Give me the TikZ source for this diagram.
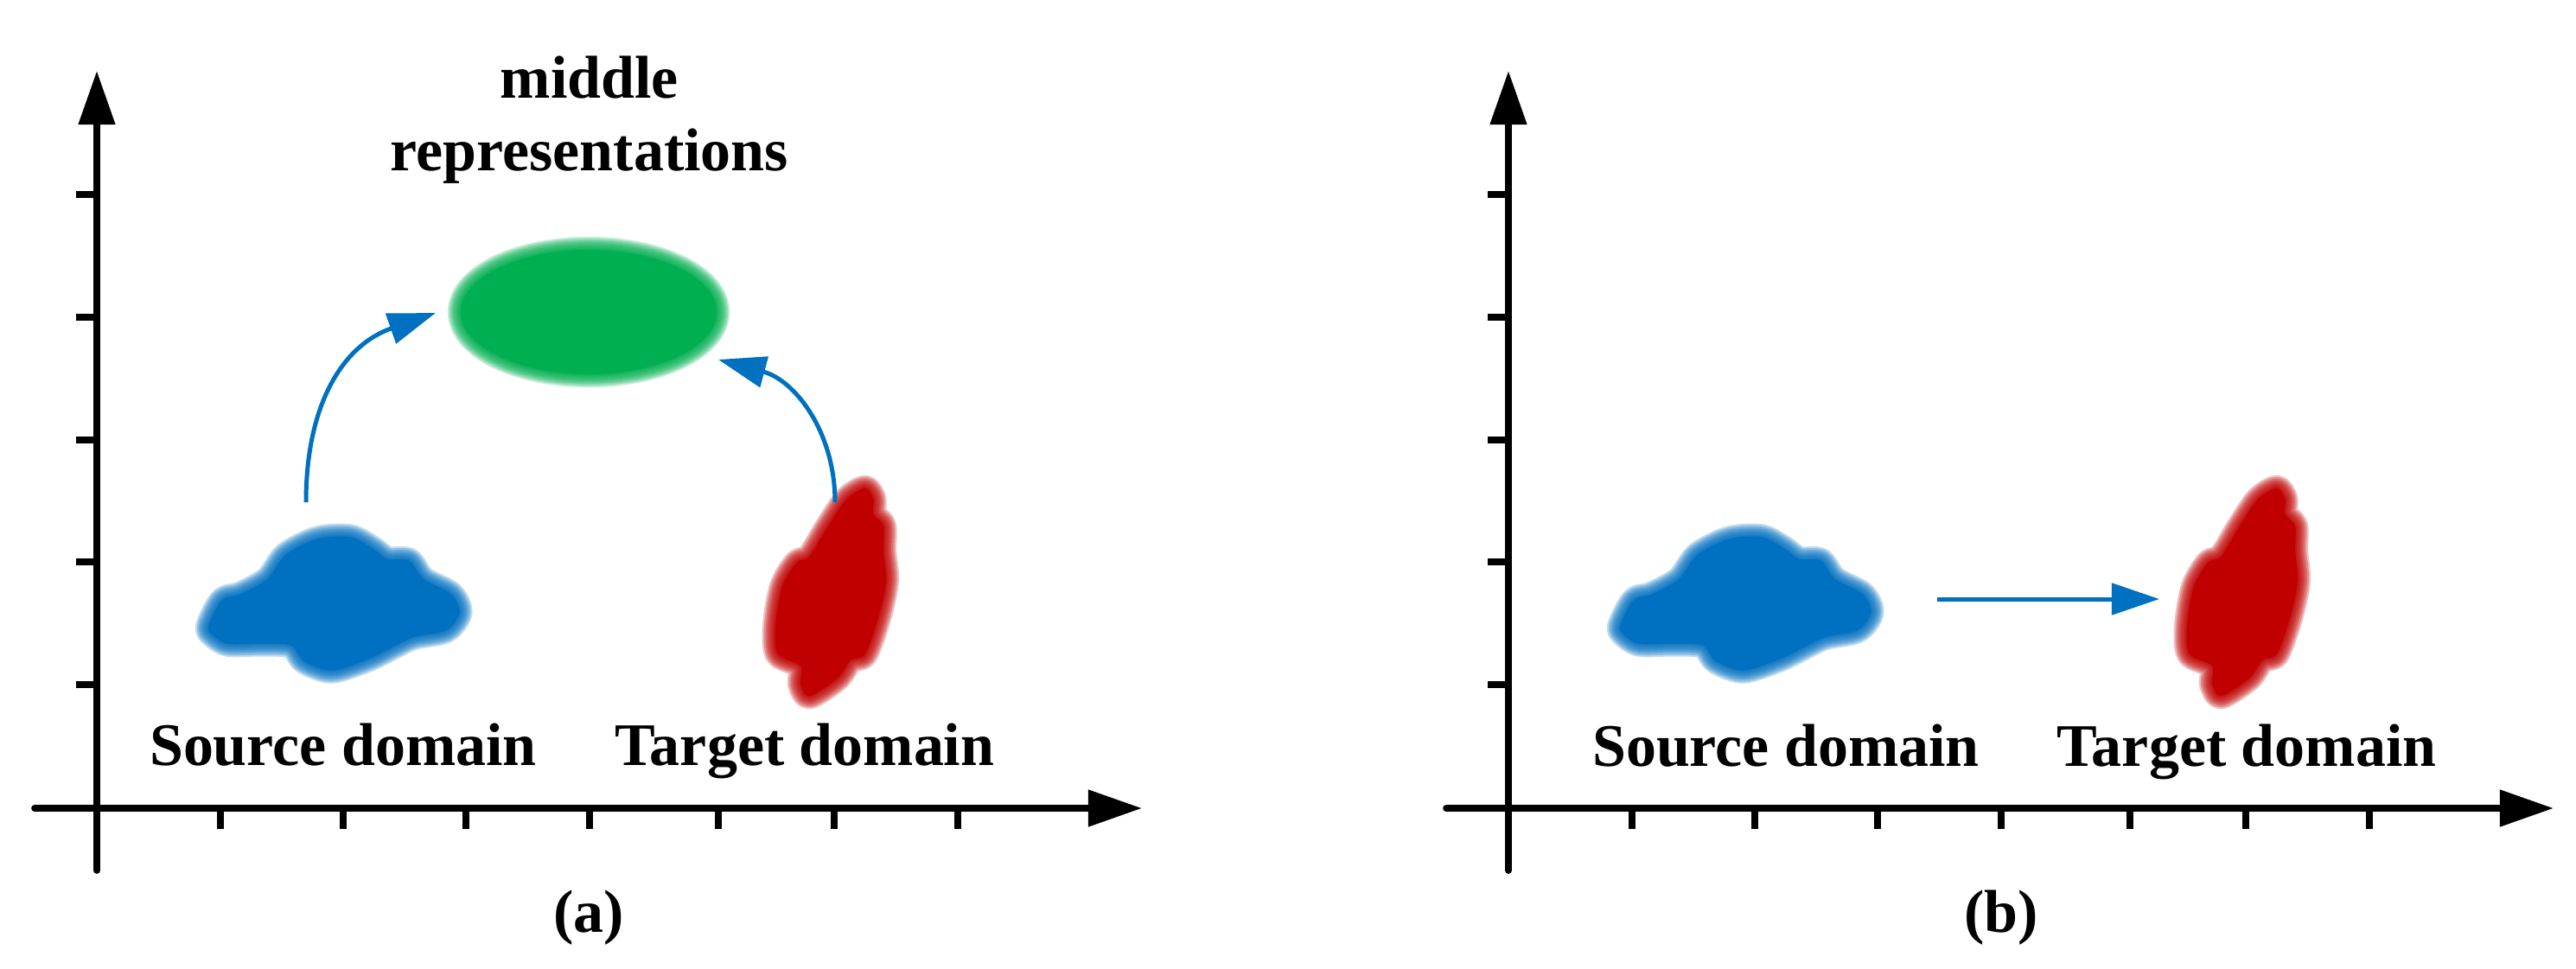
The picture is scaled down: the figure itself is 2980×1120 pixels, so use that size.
\documentclass[tikz,border=0pt]{standalone}
\usepackage{fontspec}
\setmainfont{Liberation Serif}
\usetikzlibrary{arrows.meta,shapes.geometric}
\definecolor{cblue}{HTML}{0070C0}
\definecolor{cred}{HTML}{C00000}
\definecolor{cgreen}{HTML}{00B050}
\newcommand{\cloudshape}{plot[smooth cycle] coordinates {(-149,24) (-133,-6) (-111,-13) (-79,-31) (-57,-60) (-19,-79) (20,-81) (47,-67) (64,-55) (90,-53) (107,-31) (140,-13) (150,9) (134,30) (96,38) (74,48) (42,64) (-2,78) (-35,67) (-51,48) (-89,46) (-127,46) (-146,34)}}
\newcommand{\redshape}{plot[smooth cycle] coordinates {(42,-124) (52,-111) (52,-93) (64,-79) (64,-49) (67,-13) (58,30) (42,74) (25,81) (9,103) (-24,124) (-35,110) (-35,88) (-62,74) (-65,41) (-57,-6) (-40,-35) (-24,-43) (-2,-79) (20,-111)}}
\newcommand{\softfill}[2]{%
  \foreach \w in {0.30,0.26,0.22,0.18,0.14,0.10,0.06,0.03}{\draw[#1,opacity=0.25,line width=\w cm,line join=round] #2;}%
  \fill[#1] #2;}
\begin{document}
\begin{tikzpicture}[x=0.01cm,y=-0.01cm,
  font=\fontsize{19.9pt}{23.8pt}\selectfont\bfseries,
  axisline/.style={line width=0.077cm,line cap=round,-{Triangle[length=0.62cm,width=0.41cm]}},
  tickmark/.style={line width=0.077cm},
  conn/.style={cblue,line width=0.05cm,-{Triangle[length=0.55cm,width=0.36cm]}},
  lbl/.style={anchor=base,inner sep=0pt}]
\useasboundingbox[fill=white] (0,0) rectangle (2980,1120);

% ---------- panel (a) ----------
\coordinate (yAbot) at (112,1007);
\coordinate (yAtop) at (112,82);
\coordinate (xAleft) at (40,935);
\coordinate (xAright) at (1321,935);
\draw[axisline] (yAbot) -- (yAtop);
\draw[axisline] (xAleft) -- (xAright);
\foreach \t in {225,367,509,650,792} \draw[tickmark] (88,\t) -- (112,\t);
\foreach \t in {255,397,539,682,831,965,1108} \draw[tickmark] (\t,935) -- (\t,959);

% middle representation (blurred ellipse)
\foreach \w in {0.30,0.26,0.22,0.18,0.14,0.10,0.06,0.03}{\draw[cgreen,opacity=0.25,line width=\w cm] (681,361) ellipse [x radius=1.48cm,y radius=0.72cm];}
\node[ellipse,fill=cgreen,inner sep=0pt,minimum width=2.96cm,minimum height=1.44cm] (midA) at (681,361) {};
\node[align=center,inner sep=0pt] (midtxt) at (682,139) {middle\\representations};

\begin{scope}[shift={(386,700)},scale=0.97]
  \softfill{cblue}{\cloudshape}
\end{scope}
\coordinate (srcA) at (386,700);
\begin{scope}[shift={(960,685)},scale=0.97]
  \softfill{cred}{\redshape}
\end{scope}
\coordinate (tgtA) at (960,685);

\coordinate (srcAout) at (354,581);
\coordinate (tgtAout) at (966,581);
\coordinate (midAin1) at (504,362);
\coordinate (midAin2) at (831,416);
\draw[conn] (srcAout) .. controls (354,470) and (395,400) .. (midAin1);
\draw[conn] (tgtAout) .. controls (966,500) and (920,440) .. (midAin2);

\node[lbl] (srcAlbl) at (397,885) {Source domain};
\node[lbl] (tgtAlbl) at (931,885) {Target domain};
\node[lbl] (capA) at (681,1078) {(a)};

% ---------- panel (b) ----------
\coordinate (yBbot) at (1745,1007);
\coordinate (yBtop) at (1745,82);
\coordinate (xBleft) at (1673,935);
\coordinate (xBright) at (2954,935);
\draw[axisline] (yBbot) -- (yBtop);
\draw[axisline] (xBleft) -- (xBright);
\foreach \t in {225,367,509,650,792} \draw[tickmark] (1721,\t) -- (1745,\t);
\foreach \t in {1888,2030,2172,2315,2464,2598,2741} \draw[tickmark] (\t,935) -- (\t,959);

\begin{scope}[shift={(2019,700)},scale=0.97]
  \softfill{cblue}{\cloudshape}
\end{scope}
\coordinate (srcB) at (2019,700);
\begin{scope}[shift={(2593,685)},scale=0.97]
  \softfill{cred}{\redshape}
\end{scope}
\coordinate (tgtB) at (2593,685);

\coordinate (srcBout) at (2241,693);
\coordinate (tgtBin) at (2498,693);
\draw[conn] (srcBout) -- (tgtBin);

\node[lbl] (srcBlbl) at (2066,886) {Source domain};
\node[lbl] (tgtBlbl) at (2599,886) {Target domain};
\node[lbl] (capB) at (2315,1078) {(b)};
\end{tikzpicture}
\end{document}
